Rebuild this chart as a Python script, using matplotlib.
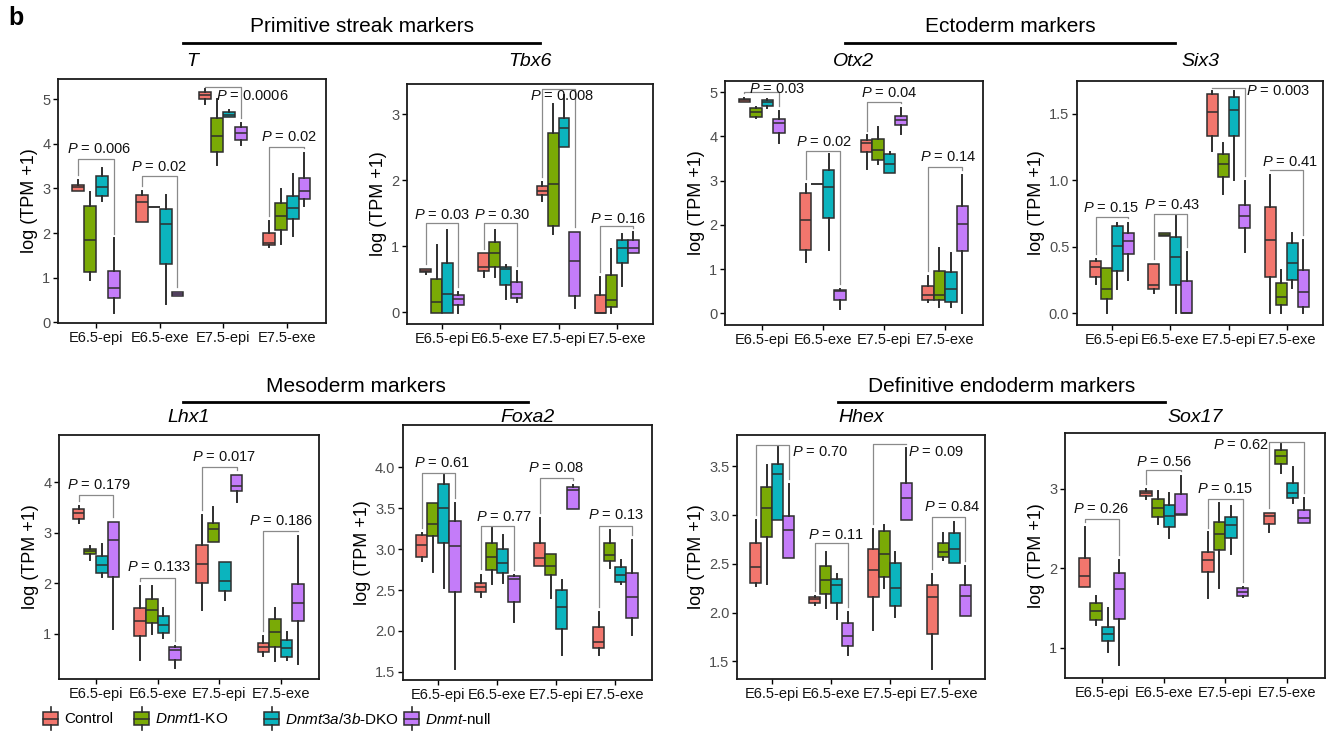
import matplotlib
matplotlib.use('Agg')
import matplotlib.pyplot as plt
from matplotlib.patches import Rectangle

plt.rcParams['font.family'] = ['Liberation Sans', 'DejaVu Sans']
plt.rcParams['mathtext.fontset'] = 'custom'
plt.rcParams['mathtext.rm'] = 'Liberation Sans'
plt.rcParams['mathtext.it'] = 'Liberation Sans:italic'

stages = ['E6.5-epi', 'E6.5-exe', 'E7.5-epi', 'E7.5-exe']
genotypes = [r'Control', r'$\mathit{Dnmt1}$-KO', r'$\mathit{Dnmt3a/3b}$-DKO', r'$\mathit{Dnmt}$-null']
colors = ['#F2766D', '#7AAA06', '#0BB4BE', '#C47CF9']

# box stats: (whislo, q1, med, q3, whishi), one row per stage, genotypes in order
T_box = [
    (2.95, 2.95, 3.03, 3.08, 3.18), (0.95, 1.13, 1.85, 2.60, 2.92), (2.72, 2.83, 3.04, 3.27, 3.45), (0.22, 0.54, 0.78, 1.14, 1.88),
    (2.25, 2.25, 2.69, 2.85, 2.95), (2.58, 2.58, 2.58, 2.58, 2.58), (0.41, 1.31, 2.21, 2.54, 2.86), (0.58, 0.60, 0.63, 0.67, 0.69),
    (4.90, 5.00, 5.09, 5.17, 5.22), (3.53, 3.81, 4.18, 4.58, 5.00), (4.60, 4.60, 4.65, 4.72, 4.75), (3.98, 4.09, 4.23, 4.38, 4.46),
    (1.68, 1.73, 1.78, 2.00, 2.28), (1.76, 2.07, 2.39, 2.68, 2.99), (1.93, 2.31, 2.57, 2.84, 3.33), (2.60, 2.77, 2.94, 3.23, 3.80),
]
T_p = ['0.006', '0.02', '0.0006', '0.02']

Tbx6_box = [
    (0.58, 0.61, 0.63, 0.65, 0.65), (-0.02, -0.02, 0.16, 0.51, 1.02), (-0.02, -0.02, 0.28, 0.75, 1.25), (-0.02, 0.11, 0.20, 0.26, 0.31),
    (0.53, 0.63, 0.69, 0.89, 0.89), (0.53, 0.69, 0.89, 1.07, 1.25), (0.20, 0.41, 0.66, 0.69, 0.72), (0.16, 0.21, 0.27, 0.46, 0.62),
    (1.68, 1.78, 1.84, 1.91, 1.98), (1.18, 1.30, 1.94, 2.71, 3.15), (2.50, 2.51, 2.79, 2.95, 3.30), (0.06, 0.24, 0.77, 1.22, 1.22),
    (-0.02, -0.02, -0.01, 0.26, 0.54), (-0.02, 0.08, 0.19, 0.57, 0.95), (0.39, 0.75, 0.97, 1.10, 1.19), (0.89, 0.89, 0.97, 1.09, 1.21),
]
Tbx6_p = ['0.03', '0.30', '0.008', '0.16']

Otx2_box = [
    (4.77, 4.77, 4.81, 4.85, 4.86), (4.42, 4.44, 4.55, 4.64, 4.66), (4.63, 4.68, 4.77, 4.83, 4.85), (3.85, 4.08, 4.30, 4.40, 4.57),
    (1.17, 1.44, 2.10, 2.72, 2.93), (2.93, 2.93, 2.93, 2.93, 2.93), (1.44, 2.16, 2.86, 3.25, 3.61), (0.11, 0.30, 0.50, 0.53, 0.55),
    (3.27, 3.65, 3.86, 3.92, 4.02), (3.37, 3.47, 3.70, 3.95, 4.21), (3.17, 3.17, 3.38, 3.61, 3.65), (4.05, 4.25, 4.36, 4.47, 4.64),
    (0.26, 0.30, 0.41, 0.62, 0.84), (0.14, 0.30, 0.42, 0.97, 1.47), (0.14, 0.26, 0.56, 0.94, 1.37), (0.01, 1.41, 2.03, 2.42, 3.12),
]
Otx2_p = ['0.03', '0.02', '0.04', '0.14']

Six3_box = [
    (0.22, 0.275, 0.35, 0.39, 0.41), (0.00, 0.11, 0.18, 0.34, 0.34), (0.18, 0.32, 0.505, 0.655, 0.675), (0.25, 0.445, 0.545, 0.605, 0.68),
    (0.15, 0.18, 0.21, 0.37, 0.37), (0.58, 0.58, 0.59, 0.60, 0.60), (0.00, 0.21, 0.42, 0.575, 0.73), (0.00, 0.00, 0.00, 0.24, 0.46),
    (1.22, 1.33, 1.51, 1.645, 1.67), (0.895, 1.025, 1.12, 1.195, 1.28), (1.00, 1.33, 1.525, 1.625, 1.67), (0.46, 0.64, 0.73, 0.81, 0.995),
    (0.00, 0.27, 0.55, 0.80, 1.04), (0.00, 0.06, 0.125, 0.225, 0.325), (0.19, 0.25, 0.38, 0.525, 0.60), (0.00, 0.05, 0.16, 0.325, 0.55),
]
Six3_p = ['0.15', '0.43', '0.003', '0.41']

Lhx1_box = [
    (3.19, 3.28, 3.39, 3.47, 3.54), (2.47, 2.58, 2.63, 2.68, 2.73), (2.12, 2.20, 2.37, 2.53, 2.78), (1.09, 2.13, 2.86, 3.21, 3.21),
    (0.47, 0.96, 1.26, 1.51, 1.95), (1.00, 1.22, 1.46, 1.69, 1.94), (0.91, 1.02, 1.18, 1.34, 1.51), (0.32, 0.48, 0.68, 0.73, 0.75),
    (1.46, 2.00, 2.39, 2.76, 3.36), (2.81, 2.81, 3.08, 3.20, 3.51), (1.66, 1.84, 2.04, 2.43, 2.43), (3.62, 3.82, 3.93, 4.15, 4.15),
    (0.56, 0.63, 0.73, 0.81, 0.95), (0.45, 0.74, 1.04, 1.29, 1.51), (0.47, 0.54, 0.71, 0.87, 1.04), (0.40, 1.26, 1.61, 1.99, 2.94),
]
Lhx1_p = ['0.179', '0.133', '0.017', '0.186']

Foxa2_box = [
    (2.86, 2.91, 3.05, 3.18, 3.20), (2.72, 3.16, 3.31, 3.56, 3.56), (2.53, 3.08, 3.51, 3.80, 3.91), (1.54, 2.48, 3.04, 3.34, 3.56),
    (2.42, 2.48, 2.54, 2.59, 2.69), (2.57, 2.75, 2.91, 3.08, 3.26), (2.59, 2.71, 2.83, 3.00, 3.17), (2.11, 2.36, 2.64, 2.67, 2.68),
    (2.80, 2.80, 2.89, 3.08, 3.38), (2.40, 2.69, 2.80, 2.94, 2.94), (1.70, 2.02, 2.29, 2.50, 2.62), (3.49, 3.49, 3.72, 3.76, 3.78),
    (1.70, 1.79, 1.87, 2.05, 2.23), (2.77, 2.85, 2.93, 3.08, 3.23), (2.57, 2.60, 2.68, 2.78, 2.87), (1.95, 2.16, 2.41, 2.71, 3.11),
]
Foxa2_p = ['0.61', '0.77', '0.08', '0.13']

Hhex_box = [
    (2.27, 2.30, 2.47, 2.71, 2.95), (2.29, 2.78, 3.07, 3.29, 3.51), (2.95, 2.95, 3.42, 3.52, 3.70), (2.56, 2.56, 2.85, 2.99, 3.32),
    (2.08, 2.10, 2.14, 2.16, 2.17), (2.05, 2.19, 2.33, 2.48, 2.62), (1.93, 2.10, 2.28, 2.34, 2.40), (1.57, 1.66, 1.76, 1.89, 2.01),
    (1.82, 2.16, 2.44, 2.65, 2.86), (2.25, 2.36, 2.60, 2.84, 2.90), (1.96, 2.07, 2.25, 2.51, 2.62), (2.95, 2.95, 3.17, 3.33, 3.69),
    (1.42, 1.78, 2.16, 2.28, 2.40), (2.54, 2.57, 2.62, 2.71, 2.82), (2.51, 2.51, 2.65, 2.82, 2.93), (1.97, 1.97, 2.17, 2.28, 2.48),
]
Hhex_p = ['0.70', '0.11', '0.09', '0.84']

Sox17_box = [
    (1.77, 1.77, 1.90, 2.13, 2.52), (1.29, 1.35, 1.46, 1.56, 1.65), (0.95, 1.08, 1.17, 1.26, 1.50), (0.78, 1.36, 1.74, 1.94, 2.10),
    (2.87, 2.91, 2.94, 2.97, 3.00), (2.55, 2.64, 2.76, 2.87, 2.97), (2.38, 2.52, 2.66, 2.80, 2.95), (2.67, 2.67, 2.68, 2.93, 3.16),
    (1.63, 1.95, 2.10, 2.20, 2.45), (1.75, 2.23, 2.43, 2.58, 2.82), (2.18, 2.38, 2.54, 2.65, 2.78), (1.64, 1.65, 1.70, 1.75, 1.76),
    (2.45, 2.56, 2.66, 2.70, 2.70), (3.20, 3.31, 3.41, 3.49, 3.56), (2.82, 2.88, 2.95, 3.07, 3.27), (2.57, 2.57, 2.63, 2.73, 2.88),
]
Sox17_p = ['0.26', '0.56', '0.15', '0.62']

# bracket heights and label anchors (x, y) for the Control vs Dnmt-null tests
T_brk, T_lab = [3.66, 3.27, 5.27, 3.93], [(1.05, 3.88), (1.99, 3.48), (3.46, 5.07), (4.04, 4.15)]
Tbx6_brk, Tbx6_lab = [1.35, 1.35, 3.38, 1.30], [(1.01, 1.47), (2.03, 1.47), (3.06, 3.28), (4.03, 1.41)]
Otx2_brk, Otx2_lab = [5.00, 3.68, 4.77, 3.31], [(1.26, 5.08), (2.02, 3.87), (3.08, 4.98), (4.05, 3.53)]
Six3_brk, Six3_lab = [0.725, 0.745, 1.69, 1.075], [(0.98, 0.79), (2.04, 0.81), (3.85, 1.67), (4.05, 1.14)]
Lhx1_brk, Lhx1_lab = [3.75, 2.10, 4.30, 3.03], [(1.05, 3.95), (2.02, 2.33), (3.08, 4.51), (4.01, 3.24)]
Foxa2_brk, Foxa2_lab = [3.93, 3.28, 3.87, 3.29], [(1.07, 4.05), (2.12, 3.40), (3.00, 3.99), (4.02, 3.42)]
Hhex_brk, Hhex_lab = [3.72, 2.71, 3.73, 2.98], [(1.81, 3.65), (2.08, 2.80), (3.79, 3.65), (4.06, 3.08)]
Sox17_brk, Sox17_lab = [2.62, 3.24, 2.87, 3.59], [(0.99, 2.74), (2.01, 3.34), (3.00, 2.99), (3.26, 3.55)]

W, H = 1333, 738
# gene, data, p, brackets, labels, frame in px (x0, y0, x1, y1), title y, ylim, yticks, ticklabels
panels = [
    ('T', T_box, T_p, T_brk, T_lab, (58, 79, 326, 323), 61, (-0.015, 5.45), [0, 1, 2, 3, 4, 5], None),
    ('Tbx6', Tbx6_box, Tbx6_p, Tbx6_brk, Tbx6_lab, (407, 84, 653, 324), 61, (-0.18, 3.46), [0, 1, 2, 3], None),
    ('Otx2', Otx2_box, Otx2_p, Otx2_brk, Otx2_lab, (725, 81, 983, 325), 61, (-0.26, 5.25), [0, 1, 2, 3, 4, 5], None),
    ('Six3', Six3_box, Six3_p, Six3_brk, Six3_lab, (1077, 81, 1323, 325), 61, (-0.0875, 1.745), [0, 0.5, 1.0, 1.5],
     ['0.0', '0.5', '1.0', '1.5']),
    ('Lhx1', Lhx1_box, Lhx1_p, Lhx1_brk, Lhx1_lab, (59, 435, 319, 679), 418, (0.1, 4.94), [1, 2, 3, 4], None),
    ('Foxa2', Foxa2_box, Foxa2_p, Foxa2_brk, Foxa2_lab, (403, 425, 652, 680), 417, (1.4, 4.52), [1.5, 2.0, 2.5, 3.0, 3.5, 4.0],
     ['1.5', '2.0', '2.5', '3.0', '3.5', '4.0']),
    ('Hhex', Hhex_box, Hhex_p, Hhex_brk, Hhex_lab, (737, 435, 985, 679), 418, (1.32, 3.82), [1.5, 2.0, 2.5, 3.0, 3.5],
     ['1.5', '2.0', '2.5', '3.0', '3.5']),
    ('Sox17', Sox17_box, Sox17_p, Sox17_brk, Sox17_lab, (1065, 433, 1325, 678), 418, (0.62, 3.7), [1, 2, 3], None),
]

offsets = [-0.28125, -0.09375, 0.09375, 0.28125]
bw = 0.1875
edge = '#2e2e2e'

fig = plt.figure(figsize=(W / 100, H / 100), dpi=100)

# overlay in pixel coordinates for headers, titles and legend
ov = fig.add_axes([0, 0, 1, 1], zorder=-1)
ov.set_xlim(0, W)
ov.set_ylim(H, 0)
ov.axis('off')

for gene, boxes, pvals, brk, lab, frame, ty, ylim, yticks, ytl in panels:
    x0, y0, x1, y1 = frame
    ax = fig.add_axes([x0 / W, 1 - y1 / H, (x1 - x0) / W, (y1 - y0) / H])
    for g in range(4):
        stats = []
        for s in range(4):
            lo, q1, med, q3, hi = boxes[s * 4 + g]
            stats.append(dict(whislo=lo, q1=q1, med=med, q3=q3, whishi=hi))
        ax.bxp(stats, positions=[s + 1 + offsets[g] for s in range(4)], widths=bw,
               patch_artist=True, showfliers=False, showcaps=False,
               boxprops=dict(facecolor=colors[g], edgecolor=edge, linewidth=1.1),
               medianprops=dict(color=edge, linewidth=1.1),
               whiskerprops=dict(color=edge, linewidth=1.4))
    gap = 0.02 * (ylim[1] - ylim[0])
    for s in range(4):
        xl, xr = s + 1 + offsets[0], s + 1 + offsets[3]
        yl = min(boxes[s * 4][4] + gap, brk[s])
        yr = min(boxes[s * 4 + 3][4] + gap, brk[s])
        ax.plot([xl, xl, xr, xr], [yl, brk[s], brk[s], yr], color='#8a8a8a', lw=0.9, zorder=4)
        ax.text(lab[s][0], lab[s][1], '$P$ = ' + pvals[s], ha='center', va='center',
                fontsize=10.5, color='#111111', zorder=5)
    ax.set_xlim(0.4, 4.62)
    ax.set_ylim(*ylim)
    ax.set_xticks(range(1, 5))
    ax.set_xticklabels(stages, fontsize=10.5, color='#111111')
    ax.set_yticks(yticks)
    if ytl:
        ax.set_yticklabels(ytl)
    ax.tick_params(axis='y', labelsize=10.5, labelcolor='#4d4d4d', length=3.5, width=1, pad=2)
    ax.tick_params(axis='x', length=3.5, width=1, pad=2)
    ax.set_ylabel('log (TPM +1)', fontsize=13, labelpad=3)
    for sp in ax.spines.values():
        sp.set_linewidth(1.3)
        sp.set_color('#1a1a1a')
    ov.text((x0 + x1) / 2, ty, gene, ha='center', va='center', fontsize=14, style='italic')

# group headers
headers = [
    ('Primitive streak markers', 183, 540, 27, 43),
    ('Ectoderm markers', 845, 1175, 27, 43),
    ('Mesoderm markers', 183, 528, 386, 402),
    ('Definitive endoderm markers', 838, 1165, 386, 402),
]
for text, xa, xb, ty, ly in headers:
    ov.text((xa + xb) / 2, ty, text, ha='center', va='center', fontsize=15)
    ov.plot([xa, xb], [ly, ly], color='black', lw=2)

ov.text(8, 18, 'b', fontsize=18, fontweight='bold', ha='left', va='center')

# legend with boxplot glyphs
key_x = [43, 134, 264, 404]
for g in range(4):
    kx = key_x[g]
    ov.add_patch(Rectangle((kx, 712), 15, 13, facecolor=colors[g], edgecolor=edge, lw=1.1))
    ov.plot([kx, kx + 15], [718.5, 718.5], color=edge, lw=1.1)
    ov.plot([kx + 7.5, kx + 7.5], [707, 712], color=edge, lw=1.2)
    ov.plot([kx + 7.5, kx + 7.5], [725, 730], color=edge, lw=1.2)
    ov.text(kx + 21, 719, genotypes[g], ha='left', va='center', fontsize=11)

fig.savefig('out.png', dpi=100)
